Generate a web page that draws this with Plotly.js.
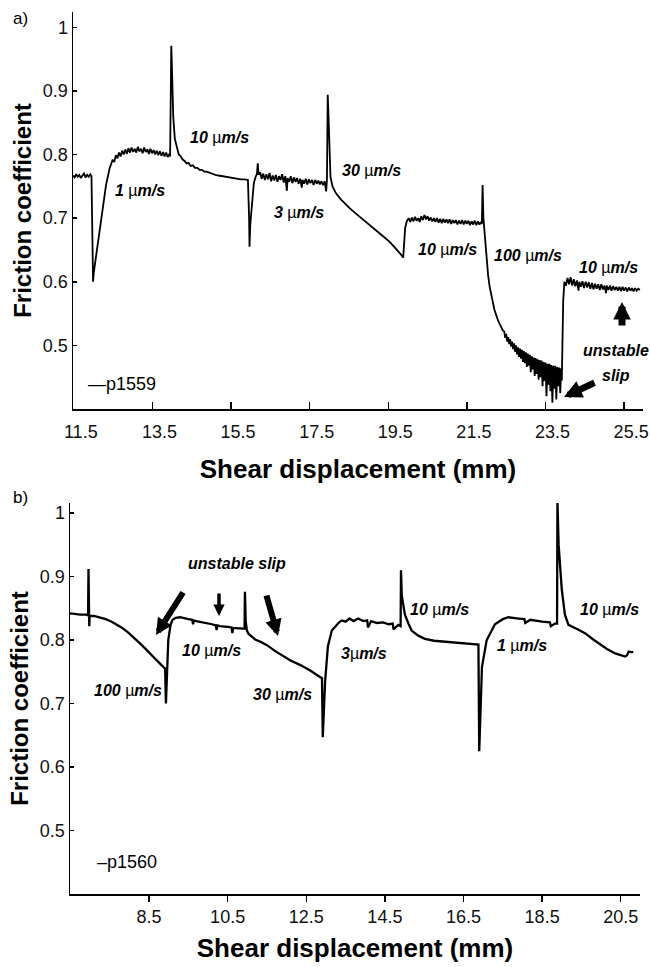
<!DOCTYPE html>
<html>
<head>
<meta charset="utf-8">
<script src="https://cdn.plot.ly/plotly-3.0.1.min.js"></script>
<style>html,body{margin:0;padding:0;background:#fff;}#chart{width:650px;height:967px;}</style>
</head>
<body>
<div id="chart"></div>
<script>
// ---------- Panel a) p1559 : shear displacement (mm) vs friction coefficient ----------
const aX = [
11.48,11.52,11.56,11.60,11.64,11.68,11.72,11.76,11.80,11.84,11.88,11.92,11.95,
11.97,11.99,12.01,12.07,12.15,12.24,12.32,12.41,12.49,
12.53,12.57,12.61,12.65,12.69,12.73,12.77,12.81,12.85,12.89,12.93,12.97,13.01,13.05,13.09,13.13,13.17,13.21,13.25,13.29,13.33,13.37,13.41,13.45,13.49,13.53,13.57,13.61,13.65,13.69,13.73,13.77,13.81,13.85,13.89,13.93,13.95,
13.97,13.98,14.00,14.03,14.07,14.12,14.17,14.22,14.27,14.32,14.37,14.42,14.47,14.53,14.58,14.64,14.70,14.76,14.82,14.88,14.95,15.02,15.10,15.18,15.26,15.35,15.45,15.55,15.65,15.75,15.85,15.93,
15.96,15.97,15.99,16.04,16.08,16.12,16.16,16.18,16.20,
16.24,16.28,16.32,16.36,16.40,16.44,16.48,16.52,16.56,16.60,16.64,16.68,16.72,16.76,16.80,16.84,16.88,16.92,16.94,16.98,17.02,17.06,17.10,17.14,17.18,17.22,17.26,17.30,17.32,17.36,17.40,17.44,17.48,17.52,17.56,17.60,17.64,17.68,17.72,17.76,17.80,17.84,17.88,17.92,17.94,
17.96,17.98,18.00,18.03,18.08,18.17,18.30,18.51,18.70,18.94,19.15,19.36,19.55,19.70,19.82,19.88,
19.90,19.93,19.97,20.02,
20.06,20.10,20.14,20.18,20.22,20.26,20.30,20.34,20.38,20.42,20.46,20.50,20.54,20.58,20.62,20.66,20.70,20.74,20.78,20.82,20.86,20.90,20.94,20.98,21.02,21.06,21.10,21.14,21.18,21.22,21.26,21.30,21.34,21.38,21.42,21.46,21.50,21.54,21.58,21.62,21.66,21.70,21.74,21.78,21.82,21.86,21.88,
21.90,21.92,21.95,21.99,22.04,22.08,22.14,22.20,22.30,22.41,
22.450,22.475,22.500,22.525,22.550,22.575,22.600,22.625,22.650,22.675,22.700,22.725,22.750,22.775,22.800,22.825,22.850,22.875,22.900,22.925,22.950,22.975,
23.000,23.025,23.050,23.075,23.100,23.125,23.150,23.175,23.200,23.225,23.250,23.275,23.300,23.325,23.350,23.375,23.400,23.425,23.450,23.475,
23.500,23.525,23.550,23.575,23.600,23.625,23.650,23.675,23.700,23.725,23.750,23.775,23.800,23.825,23.850,23.875,23.900,23.915,
23.93,23.95,23.98,24.02,
24.06,24.10,24.14,24.18,24.22,24.26,24.30,24.34,24.36,24.40,24.44,24.48,24.52,24.56,24.60,24.64,24.68,24.72,24.76,24.80,24.84,24.88,24.92,24.96,25.00,25.04,25.06,25.10,25.14,25.18,25.22,25.26,25.30,25.34,25.38,25.42,25.46,25.50,25.54,25.58,25.62,25.66,25.70,25.74,25.78,25.82,25.86,25.90
];
const aY = [
0.767,0.764,0.769,0.765,0.768,0.763,0.767,0.770,0.764,0.768,0.765,0.769,0.766,
0.700,0.600,0.615,0.640,0.681,0.718,0.752,0.778,0.792,
0.788,0.799,0.794,0.803,0.797,0.806,0.800,0.808,0.801,0.810,0.803,0.811,0.804,0.809,0.803,0.812,0.805,0.809,0.802,0.811,0.804,0.808,0.801,0.809,0.802,0.807,0.800,0.806,0.799,0.805,0.798,0.804,0.797,0.803,0.796,0.801,0.797,
0.900,0.971,0.930,0.860,0.825,0.812,0.800,0.797,0.792,0.790,0.786,0.787,0.782,0.783,0.779,0.779,0.776,0.776,0.773,0.773,0.771,0.770,0.768,0.767,0.766,0.765,0.764,0.763,0.762,0.761,0.761,0.760,
0.700,0.655,0.690,0.734,0.755,0.764,0.770,0.786,0.768,
0.772,0.762,0.770,0.760,0.769,0.761,0.771,0.758,0.767,0.759,0.768,0.757,0.766,0.760,0.769,0.756,0.766,0.743,0.763,0.757,0.766,0.755,0.764,0.757,0.763,0.754,0.762,0.748,0.760,0.754,0.762,0.753,0.761,0.755,0.760,0.752,0.760,0.754,0.759,0.753,0.758,0.752,0.758,0.742,0.760,
0.894,0.860,0.800,0.765,0.750,0.739,0.729,0.716,0.706,0.694,0.683,0.672,0.662,0.652,0.643,0.638,
0.660,0.685,0.695,0.700,
0.694,0.701,0.695,0.702,0.696,0.700,0.694,0.703,0.697,0.705,0.698,0.703,0.696,0.701,0.695,0.700,0.694,0.700,0.693,0.699,0.692,0.699,0.693,0.698,0.692,0.698,0.691,0.697,0.692,0.697,0.690,0.696,0.691,0.697,0.690,0.696,0.691,0.696,0.689,0.695,0.690,0.696,0.689,0.695,0.690,0.694,0.691,
0.752,0.700,0.675,0.639,0.610,0.592,0.572,0.556,0.538,0.524,
0.522,0.512,0.518,0.506,0.513,0.502,0.510,0.498,0.506,0.494,0.503,0.490,0.500,0.486,0.497,0.482,0.495,0.479,0.493,0.474,0.491,0.472,
0.489,0.466,0.487,0.468,0.485,0.458,0.483,0.462,0.481,0.452,0.480,0.455,0.478,0.446,0.477,0.450,0.476,0.436,0.474,0.444,
0.473,0.420,0.471,0.438,0.471,0.428,0.469,0.410,0.468,0.432,0.468,0.415,0.466,0.436,0.465,0.425,0.464,0.445,
0.500,0.570,0.600,0.594,
0.606,0.596,0.607,0.594,0.604,0.593,0.602,0.586,0.600,0.592,0.601,0.590,0.600,0.591,0.599,0.589,0.598,0.588,0.597,0.589,0.596,0.587,0.596,0.588,0.594,0.582,0.594,0.587,0.594,0.586,0.593,0.587,0.592,0.586,0.592,0.585,0.592,0.586,0.591,0.585,0.591,0.586,0.590,0.585,0.590,0.586,0.589,0.587
];

// ---------- Panel b) p1560 ----------
const bX = [
6.49,6.60,6.75,6.90,6.95,6.96,6.97,6.98,6.99,7.10,7.25,7.40,7.55,7.68,7.80,7.95,8.10,8.25,8.40,8.53,8.65,8.78,8.91,
8.93,8.95,8.99,9.05,9.10,9.18,9.29,9.50,9.60,9.62,9.64,9.70,9.90,10.10,10.20,10.22,10.24,10.30,10.50,10.60,10.62,10.64,10.70,10.80,10.90,10.93,
10.94,10.96,10.99,11.03,11.20,11.35,11.50,11.70,11.92,12.10,12.34,12.60,12.85,12.90,
12.92,12.95,12.98,13.05,13.15,13.32,13.40,13.50,13.60,13.70,13.82,13.95,14.05,14.07,14.15,14.30,14.45,14.60,14.70,14.72,14.84,14.90,
14.91,14.93,15.01,15.10,15.18,15.35,15.52,15.75,15.95,16.20,16.50,16.84,16.88,
16.90,16.93,16.97,17.09,17.30,17.50,17.64,17.90,18.05,18.07,18.20,18.50,18.70,18.72,18.83,18.88,
18.89,18.92,19.00,19.08,19.17,19.40,19.59,19.80,19.93,20.15,20.36,20.50,20.61,20.66,20.70,20.76,20.82
];
const bY = [
0.842,0.841,0.840,0.840,0.839,0.912,0.860,0.822,0.838,0.838,0.836,0.833,0.829,0.825,0.820,0.813,0.805,0.796,0.787,0.778,0.771,0.763,0.755,
0.700,0.740,0.800,0.825,0.832,0.835,0.836,0.833,0.832,0.825,0.831,0.830,0.828,0.825,0.823,0.816,0.823,0.822,0.821,0.820,0.811,0.819,0.819,0.818,0.818,0.818,
0.876,0.830,0.815,0.810,0.801,0.797,0.792,0.783,0.774,0.768,0.761,0.752,0.742,0.740,
0.647,0.690,0.735,0.790,0.815,0.827,0.831,0.829,0.834,0.830,0.834,0.830,0.831,0.820,0.830,0.827,0.828,0.825,0.826,0.817,0.824,0.822,
0.910,0.870,0.840,0.826,0.815,0.807,0.802,0.799,0.798,0.797,0.795,0.794,0.793,
0.625,0.700,0.758,0.800,0.825,0.833,0.836,0.834,0.833,0.827,0.832,0.829,0.828,0.822,0.826,0.826,
1.020,0.950,0.880,0.840,0.824,0.817,0.811,0.801,0.795,0.786,0.779,0.776,0.774,0.776,0.782,0.781,0.781
];

// ---------- axes ----------
const xTicksA = [11.5,13.5,15.5,17.5,19.5,21.5,23.5,25.5];
const xTickTextA = ["11.5","13.5","15.5","17.5","19.5","21.5","23.5","25.5"];
const xTicksB = [8.5,10.5,12.5,14.5,16.5,18.5,20.5];
const xTickTextB = ["8.5","10.5","12.5","14.5","16.5","18.5","20.5"];
const yTicks = [0.5,0.6,0.7,0.8,0.9,1.0];
const yTickText = ["0.5","0.6","0.7","0.8","0.9","1"];

// ---------- text labels ----------
const panelLabels = ["a)","b)"];
const sampleLabels = ["p1559","p1560"];
const xTitle = "Shear displacement (mm)";
const yTitle = "Friction coefficient";
const speedA = ["1","10","3","30","10","100","10"];
const speedB = ["100","10","30","3","10","1","10"];

const W = 650, H = 967;
const P = (px, py) => ({x: px / W, y: 1 - py / H});
const FONT = "Liberation Sans, Arial, sans-serif";

function speedText(v, tight) {
  return '<b><i>' + v + (tight ? '' : ' ') + '</i></b>\u00b5<b><i>m/s</i></b>';
}

const traces = [
  {x: aX, y: aY, xaxis: 'x', yaxis: 'y', type: 'scatter', mode: 'lines',
   line: {color: '#000', width: 1.8}, showlegend: false, hoverinfo: 'skip'},
  {x: bX, y: bY, xaxis: 'x2', yaxis: 'y2', type: 'scatter', mode: 'lines',
   line: {color: '#000', width: 2.3}, showlegend: false, hoverinfo: 'skip'}
];

const tickFont = {family: FONT, size: 18, color: '#111'};
const titleFontY = {family: FONT, size: 24, color: '#000'};
const titleFontX = {family: FONT, size: 26, color: '#000'};

function axisCommon() {
  return {showgrid: false, zeroline: false, showline: true, linecolor: '#000', linewidth: 1.5,
          tickcolor: '#000', tickwidth: 1.5, ticklen: 5, tickfont: tickFont, tickmode: 'array', fixedrange: true};
}

const annotations = [];
function addText(px, py, text, size, extra) {
  const p = P(px, py);
  annotations.push(Object.assign({xref: 'paper', yref: 'paper', x: p.x, y: p.y, text: text,
    showarrow: false, xanchor: 'center', yanchor: 'middle',
    font: {family: FONT, size: size, color: '#000'}}, extra || {}));
}
function addArrow(tipPx, tipPy, tailPx, tailPy, width, size) {
  const p = P(tipPx, tipPy);
  annotations.push({xref: 'paper', yref: 'paper', x: p.x, y: p.y, text: '',
    showarrow: true, arrowhead: 2, arrowsize: size, arrowwidth: width, arrowcolor: '#000',
    ax: tailPx - tipPx, ay: tailPy - tipPy});
}

// panel labels
addText(20, 18, panelLabels[0], 17);
addText(20, 497, panelLabels[1], 17);
// sample labels
addText(122, 384, '\u2014' + sampleLabels[0], 18);
addText(127, 862, '\u2013' + sampleLabels[1], 18);

// speed labels panel a
addText(140, 190, speedText(speedA[0]), 16);
addText(219, 138, speedText(speedA[1]), 16);
addText(299, 213, speedText(speedA[2]), 16);
addText(371, 170, speedText(speedA[3]), 16);
addText(447, 249, speedText(speedA[4]), 16);
addText(528, 255, speedText(speedA[5]), 16);
addText(608, 268, speedText(speedA[6]), 16);
addText(616, 350, '<b><i>unstable</i></b>', 16);
addText(616, 375, '<b><i>slip</i></b>', 16);
addArrow(622, 302, 622, 327, 7, 0.5);
addArrow(564, 397, 596, 382, 6.5, 0.55);

// speed labels panel b
addText(128, 690, speedText(speedB[0]), 16);
addText(212, 650, speedText(speedB[1]), 16);
addText(282, 694, speedText(speedB[2]), 16);
addText(364, 653, speedText(speedB[3], true), 16);
addText(439, 609, speedText(speedB[4]), 16);
addText(522, 645, speedText(speedB[5]), 16);
addText(609, 609, speedText(speedB[6]), 16);
addText(237, 563, '<b><i>unstable slip</i></b>', 16);
addArrow(156, 635, 184, 591, 6, 0.55);
addArrow(219, 616, 219, 592, 3.5, 0.65);
addArrow(278, 636, 266, 594, 6, 0.55);

const layout = {
  width: W, height: H,
  margin: {l: 0, r: 0, t: 0, b: 0},
  paper_bgcolor: '#fff', plot_bgcolor: '#fff',
  showlegend: false,
  xaxis: Object.assign(axisCommon(), {domain: [73 / W, 643 / W], range: [11.48, 25.98], anchor: 'y',
    tickvals: xTicksA, ticktext: xTickTextA, ticks: 'inside', ticklen: 7, ticklabelshift: 7, ticklabelstandoff: 6,
    title: {text: '<b>' + xTitle + '</b>', font: titleFontX, standoff: 18}}),
  yaxis: Object.assign(axisCommon(), {domain: [1 - 409 / H, 1 - 12 / H], range: [0.4, 1.024], anchor: 'x',
    tickvals: yTicks, ticktext: yTickText, ticks: 'inside', ticklen: 4,
    title: {text: '<b>' + yTitle + '</b>', font: titleFontY, standoff: 4}}),
  xaxis2: Object.assign(axisCommon(), {domain: [70 / W, 640 / W], range: [6.49, 20.99], anchor: 'y2',
    tickvals: xTicksB, ticktext: xTickTextB, ticks: 'outside', ticklen: 6,
    title: {text: '<b>' + xTitle + '</b>', font: titleFontX, standoff: 12}}),
  yaxis2: Object.assign(axisCommon(), {domain: [1 - 894 / H, 1 - 503 / H], range: [0.4, 1.016], anchor: 'x2',
    tickvals: yTicks, ticktext: yTickText, ticks: 'inside', ticklen: 4,
    title: {text: '<b>' + yTitle + '</b>', font: titleFontY, standoff: 4}}),
  annotations: annotations
};

Plotly.newPlot('chart', traces, layout, {displayModeBar: false, staticPlot: true});
</script>
</body>
</html>
